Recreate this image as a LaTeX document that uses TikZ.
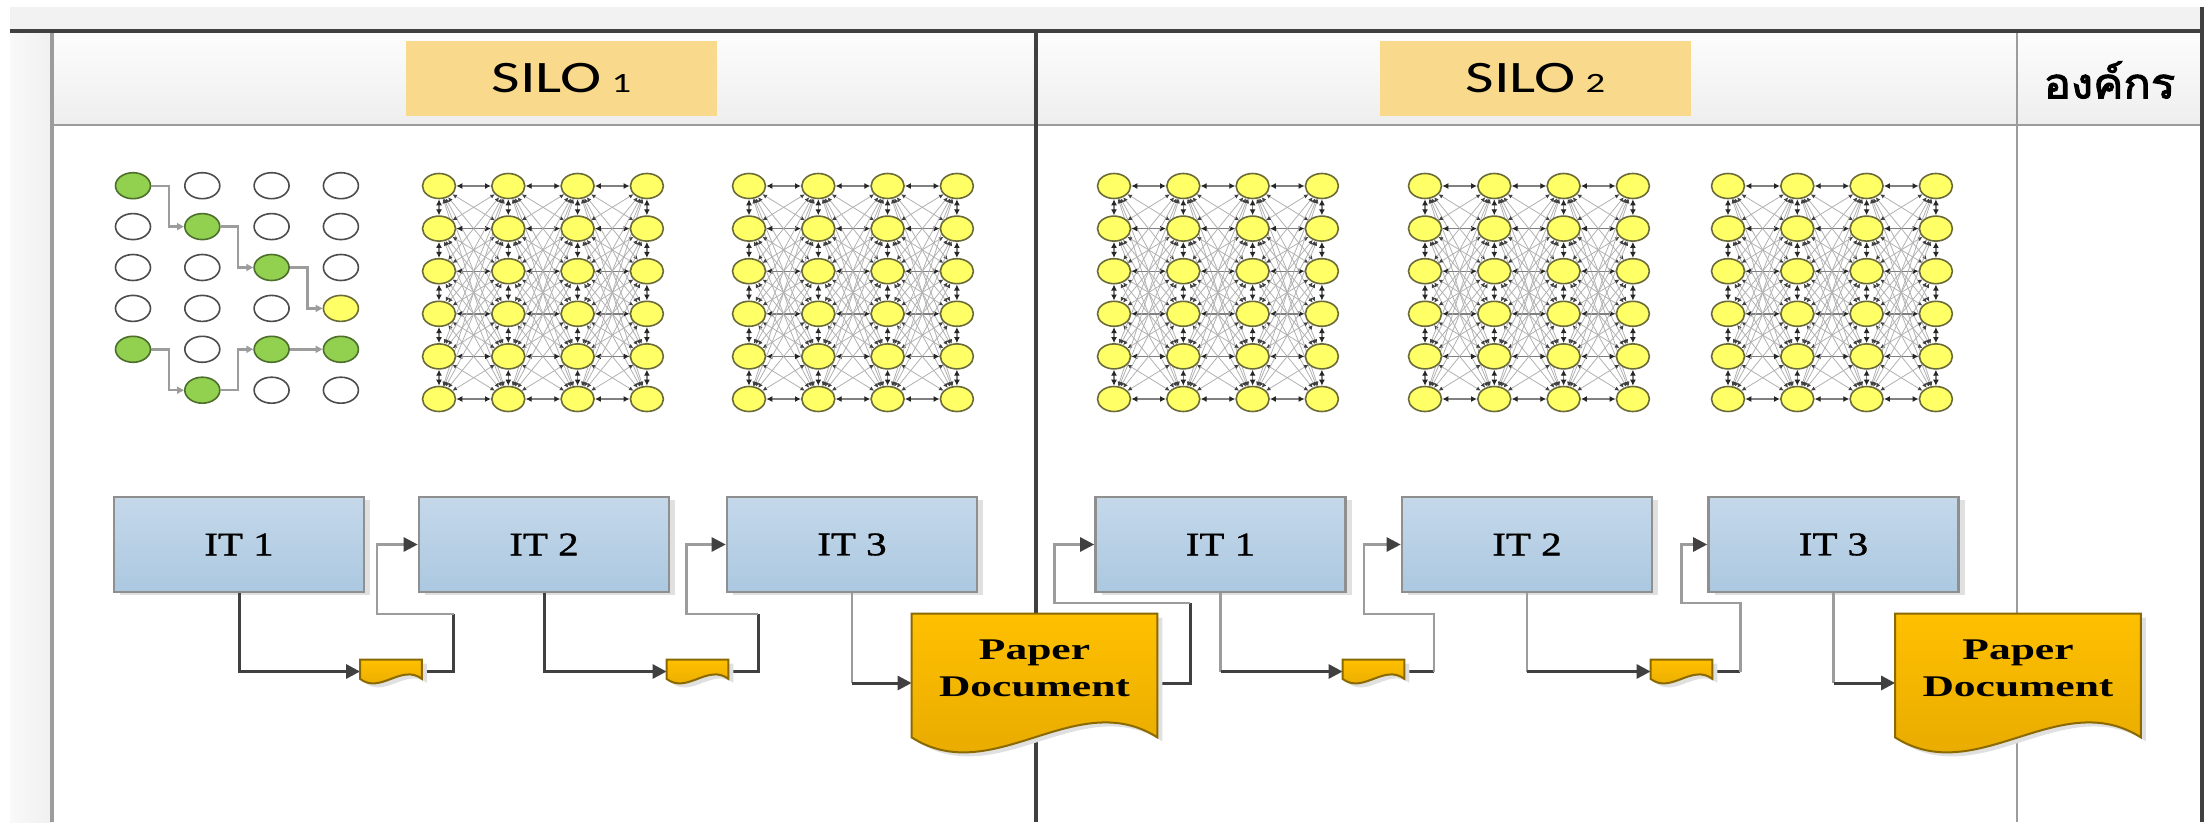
\documentclass[tikz,border=0pt]{standalone}
\usepackage{fontspec}
\setmainfont{Liberation Serif}
\newfontfamily\silofont[FakeStretch=1.38]{Carlito}
\newfontfamily\itfont[FakeStretch=1.24,FakeBold=1.2]{Liberation Serif}
\newfontfamily\docfont[FakeStretch=1.45]{Liberation Serif}
\newfontfamily\thaifont[Script=Thai,FakeBold=2.5,FakeStretch=1.08]{Loma}
\usetikzlibrary{arrows.meta,calc,shadows,shapes.geometric}
\pgfdeclarelayer{back}
\pgfdeclarelayer{mesh}
\pgfsetlayers{back,mesh,main}
\definecolor{dk}{HTML}{404040}
\definecolor{gr}{HTML}{9C9C9C}
\definecolor{siloF}{HTML}{F9D98C}
\definecolor{itTop}{HTML}{C5D8EA}
\definecolor{itBot}{HTML}{ABC8E0}
\definecolor{itLine}{HTML}{8F8F8F}
\definecolor{docTop}{HTML}{FFC000}
\definecolor{docBot}{HTML}{E3A700}
\definecolor{docLine}{HTML}{8A6A00}
\definecolor{yel}{HTML}{FFFF66}
\definecolor{yelLine}{HTML}{6A6A3A}
\definecolor{grn}{HTML}{92D050}
\definecolor{grnLine}{HTML}{4D6E2C}
\definecolor{band}{HTML}{F2F2F2}
\definecolor{stripL}{HTML}{F9F9F9}
\definecolor{stripR}{HTML}{F0F0F0}
\definecolor{headT}{HTML}{FDFDFD}
\definecolor{headB}{HTML}{EEEEEE}
\tikzset{
 ynode/.style={ellipse, draw=yelLine, fill=yel, line width=0.8pt, minimum width=16.5pt, minimum height=12.5pt, inner sep=0pt},
 gnode/.style={ellipse, draw=grnLine, fill=grn, line width=0.8pt, minimum width=17.5pt, minimum height=13pt, inner sep=0pt},
 wnode/.style={gnode, draw=black!70, fill=white},
 yfnode/.style={gnode, draw=yelLine, fill=yel},
 pathline/.style={draw=gr, line width=1.2pt, arrows={-Triangle[length=3.5pt,width=3.5pt]}},
 meshH/.style={draw=black!50, line width=0.7pt, arrows={Latex[length=3pt,width=3pt,color=black!85]-Latex[length=3pt,width=3pt,color=black!85]}},
 meshD/.style={draw=black!30, line width=0.4pt, arrows={Latex[length=2.2pt,width=2.2pt,color=black!75]-Latex[length=2.2pt,width=2.2pt,color=black!75]}},
 itbox/.style={rectangle, draw=itLine, line width=1.3pt, top color=itTop, bottom color=itBot, minimum width=125pt, minimum height=47.5pt, inner sep=0pt, font=\itfont\fontsize{16.5}{16.5}\selectfont, drop shadow={shadow xshift=3pt, shadow yshift=-1.5pt, fill=black!12, opacity=1}},
 dkline/.style={draw=dk, line width=1.5pt},
 grline/.style={draw=gr, line width=1.25pt},
 arr/.style={arrows={-Triangle[length=7pt,width=7pt,color=dk]}},
 silobox/.style={fill=siloF, minimum width=155.5pt, minimum height=37.5pt, inner sep=0pt, font=\silofont\fontsize{22.5}{22.5}\selectfont},
 doctext/.style={font=\docfont\bfseries\fontsize{15}{18.5}\selectfont, align=center},
 docfill/.style={draw=docLine, line width=1pt, top color=docTop, bottom color=docBot},
 smalldoc/.style={rectangle, inner sep=0pt, minimum width=30.5pt, minimum height=11.5pt},
 bigdoc/.style={rectangle, inner sep=0pt, minimum width=122.5pt, minimum height=69pt},
}
\newcommand\drawdoc[3]{%
 \fill[black!12, transform canvas={xshift=2.5pt,yshift=-2pt}] (#1.north west) -- (#1.north east) -- ($(#1.south east)+(0,-#3)$) .. controls ($(#1.south east)+({-#2/3},{-4.46*#3})$) and ($(#1.south west)+({#2/3},{2.46*#3})$) .. ($(#1.south west)+(0,-#3)$) -- cycle;
 \draw[docfill] (#1.north west) -- (#1.north east) -- ($(#1.south east)+(0,-#3)$) .. controls ($(#1.south east)+({-#2/3},{-4.46*#3})$) and ($(#1.south west)+({#2/3},{2.46*#3})$) .. ($(#1.south west)+(0,-#3)$) -- cycle;
}
\begin{document}
\begin{tikzpicture}[x=0.5pt,y=-0.5pt]
\begin{pgfonlayer}{back}
\fill[white] (0,0) rectangle (2212,822);
\fill[band] (10,7) rectangle (2202,31);
\shade[left color=stripL, right color=stripR] (10,31) rectangle (52,822);
\shade[top color=headT, bottom color=headB] (52,31) rectangle (2202,125);
\draw[gr, line width=2pt] (52,31) -- (52,822);
\draw[gr, line width=1.4pt] (52,125) -- (2202,125);
\draw[dk, line width=1.8pt] (1036,31) -- (1036,822);
\draw[gr, line width=1.4pt] (2017,31) -- (2017,822);
\draw[dk, line width=1.8pt] (2202,7) -- (2202,822);
\draw[dk, line width=1.6pt] (10,31) -- (2203,31);
\end{pgfonlayer}
\useasboundingbox (0,0) rectangle (2212,822);

% header
\node[silobox] (silo1) at (561.5,78.5) {SILO\hspace{5pt}{\fontsize{14}{14}\selectfont 1}};
\node[silobox] (silo2) at (1535.5,78.5) {SILO\hspace{5pt}{\fontsize{14}{14}\selectfont 2}};
\node[font=\thaifont\fontsize{21}{21}\selectfont, inner sep=0pt] (org) at (2109.5,80) {องค์กร};

% grid 1 (path)
\foreach \c/\r/\s in {0/0/gnode,1/0/wnode,2/0/wnode,3/0/wnode,
                      0/1/wnode,1/1/gnode,2/1/wnode,3/1/wnode,
                      0/2/wnode,1/2/wnode,2/2/gnode,3/2/wnode,
                      0/3/wnode,1/3/wnode,2/3/wnode,3/3/yfnode,
                      0/4/gnode,1/4/wnode,2/4/gnode,3/4/gnode,
                      1/5/gnode,2/5/wnode,3/5/wnode}
  \node[\s] (g1-\c-\r) at ({133+69.3*\c},{185.7+40.9*\r}) {};
\draw[pathline] (g1-0-0.east) -- ++(17.5,0) |- (g1-1-1.west);
\draw[pathline] (g1-1-1.east) -- ++(17.5,0) |- (g1-2-2.west);
\draw[pathline] (g1-2-2.east) -- ++(17.5,0) |- (g1-3-3.west);
\draw[pathline] (g1-0-4.east) -- ++(17.5,0) |- (g1-1-5.west);
\draw[pathline] (g1-1-5.east) -- ++(17.5,0) |- (g1-2-4.west);
\draw[pathline] (g1-2-4.east) -- (g1-3-4.west);

% dense grids
\foreach \g/\x in {2/439,3/749,4/1114,5/1425,6/1728}{
  \foreach \c in {0,1,2,3}{
    \foreach \r in {0,...,5}{
      \node[ynode] (g\g-\c-\r) at ({\x+69.3*\c},{186+42.6*\r}) {};
    }
  }
}
\begin{pgfonlayer}{mesh}
\foreach \g in {2,...,6}{
  \foreach \c/\cn in {0/1,1/2,2/3}{
    \foreach \r in {0,...,5}{
      \foreach \s in {0,...,5}{
        \ifnum\r=\s\relax
          \draw[meshH] (g\g-\c-\r) -- (g\g-\cn-\s);
        \else
          \draw[meshD] (g\g-\c-\r) -- (g\g-\cn-\s);
        \fi
      }
    }
  }
  \foreach \c in {0,...,3}{
    \foreach \r/\rn in {0/1,1/2,2/3,3/4,4/5}{
      \draw[meshH] (g\g-\c-\r) -- (g\g-\c-\rn);
    }
  }
}
\end{pgfonlayer}

% IT boxes
\node[itbox] (s1it1) at (239,544.5) {IT 1};
\node[itbox] (s1it2) at (544,544.5) {IT 2};
\node[itbox] (s1it3) at (852,544.5) {IT 3};
\node[itbox] (s2it1) at (1220.5,544.5) {IT 1};
\node[itbox] (s2it2) at (1527,544.5) {IT 2};
\node[itbox] (s2it3) at (1833.5,544.5) {IT 3};

% documents (anchors)
\node[smalldoc] (d1) at (391,671.5) {};
\node[smalldoc] (d2) at (697.5,671.5) {};
\node[smalldoc] (d3) at (1373.5,671.5) {};
\node[smalldoc] (d4) at (1681.5,671.5) {};
\node[bigdoc] (p1) at (1034.5,683) {};
\node[bigdoc] (p2) at (2018,683) {};

% connectors SILO 1
\draw[dkline, arr] (s1it1.south) |- (d1.west);
\draw[dkline] (d1.east) -- ++(32,0) -- ++(0,-57.5) coordinate (f1);
\draw[grline, arr] (f1) -- ++(-77,0) |- (s1it2.west);
\draw[dkline, arr] (s1it2.south) |- (d2.west);
\draw[dkline] (d2.east) -- ++(30,0) -- ++(0,-57.5) coordinate (f2);
\draw[grline, arr] (f2) -- ++(-72,0) |- (s1it3.west);
\draw[grline] (s1it3.south) -- (s1it3.south |- p1.west) coordinate (b3);
\draw[dkline, arr] (b3) -- (p1.west);
% connectors SILO 2
\draw[dkline] (p1.east) -- ++(33,0) -- ++(0,-80) coordinate (f3);
\draw[grline, arr] (f3) -- ++(-136,0) |- (s2it1.west);
\draw[grline] (s2it1.south) -- (s2it1.south |- d3.west) coordinate (b4);
\draw[dkline, arr] (b4) -- (d3.west);
\draw[dkline] (d3.east) -- ++(29.5,0) coordinate (f4);
\draw[grline, arr] (f4) -- ++(0,-57.5) -- ++(-70,0) |- (s2it2.west);
\draw[grline] (s2it2.south) -- (s2it2.south |- d4.west) coordinate (b5);
\draw[dkline, arr] (b5) -- (d4.west);
\draw[dkline] (d4.east) -- ++(28,0) coordinate (f5);
\draw[grline, arr] (f5) -- ++(0,-68.5) -- ++(-59,0) |- (s2it3.west);
\draw[grline] (s2it3.south) -- (s2it3.south |- p2.west) coordinate (b6);
\draw[dkline, arr] (b6) -- (p2.west);

% document shapes
\drawdoc{d1}{61}{4.5}
\drawdoc{d2}{61}{4.5}
\drawdoc{d3}{61}{4.5}
\drawdoc{d4}{61}{4.5}
\drawdoc{p1}{245}{15}
\drawdoc{p2}{245}{15}
\node[doctext] (p1t) at ($(p1.center)+(0,-15)$) {Paper\\Document};
\node[doctext] (p2t) at ($(p2.center)+(0,-15)$) {Paper\\Document};
\end{tikzpicture}
\end{document}
